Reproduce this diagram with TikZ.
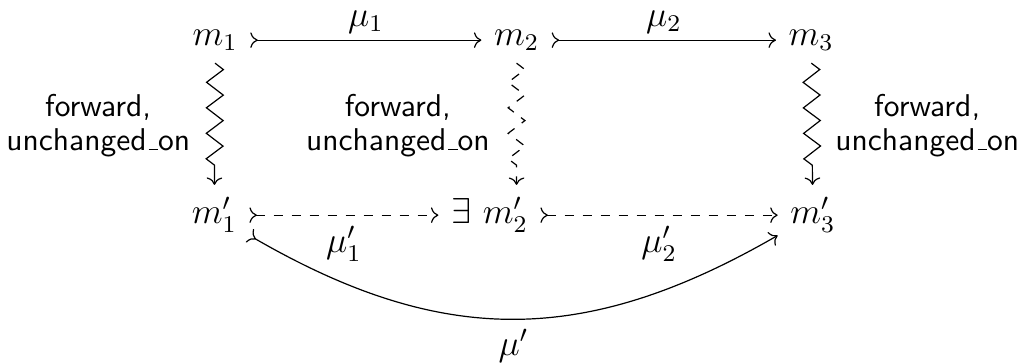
\documentclass[tikz,border=0pt]{standalone}
\usetikzlibrary{arrows.meta,decorations.pathmorphing}
\newcommand\usc{\leavevmode\kern.06em\vbox{\hrule width .3em}}

\begin{document}
\begin{tikzpicture}[>={Computer Modern Rightarrow}, font=\large,
  obj/.style={inner sep=4pt},
  lbl/.style={font=\fontsize{10.5}{11.2}\selectfont\sffamily, align=center},
  squig/.style={->, decorate, decoration={zigzag, segment length=8.5pt, amplitude=2.8pt, post=lineto, post length=4pt}}]
  \useasboundingbox (0,0) rectangle (11.97,-4.24);

  % top row
  \node[obj] (m1) at (2.52,-0.47) {$m_1$};
  \node[obj] (m2) at (6.05,-0.47) {$m_2$};
  \node[obj] (m3) at (9.50,-0.47) {$m_3$};

  % bottom row
  \node[obj] (m1p) at (2.51,-2.52) {$m_1'$};
  \node[obj, anchor=east] (m2p) at (6.33,-2.52) {$\exists\ m_2'$};
  \node[obj] (m3p) at (9.52,-2.52) {$m_3'$};

  % side texts
  \node[lbl] (t1) at (1.15,-1.47) {forward,\\unchanged\usc on};
  \node[lbl] (t2) at (4.66,-1.47) {forward,\\unchanged\usc on};
  \node[lbl] (t3) at (10.86,-1.47) {forward,\\unchanged\usc on};

  % horizontal maps
  \draw[>->] (m1) -- node[above, inner sep=2pt] {$\mu_1$} (m2);
  \draw[>->] (m2) -- node[above, inner sep=2pt] {$\mu_2$} (m3);
  \draw[>->, dashed] (m1p) -- node[below] {$\mu_1'$} (m2p);
  \draw[>->, dashed] (m2p) -- node[below] {$\mu_2'$} (m3p);
  \draw[>->] (m1p) to[out=-30, in=-150, looseness=1.08] node[below] {$\mu'$} (m3p);

  % vertical squiggles
  \draw[squig] (m1) -- (m1p);
  \draw[squig, dashed] (m2.south) -- (m2.south |- m2p.north);
  \draw[squig] (m3) -- (m3p);
\end{tikzpicture}
\end{document}
